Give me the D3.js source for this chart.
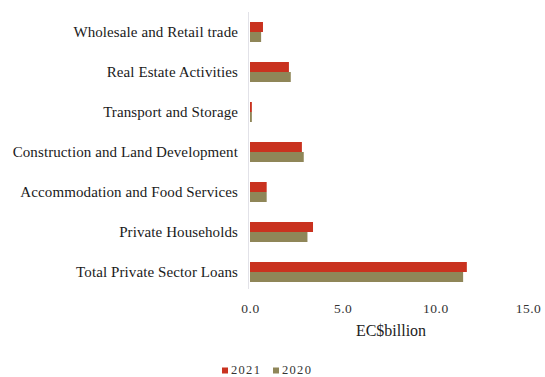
<!DOCTYPE html>
<html>
<head>
<meta charset="utf-8">
<script src="https://cdn.jsdelivr.net/npm/d3@7"></script>
<style>
  html, body { margin: 0; padding: 0; background: #fff; }
  svg { display: block; font-family: "Liberation Serif", "DejaVu Serif", serif; }
</style>
</head>
<body>
<svg id="chart" width="545" height="377"></svg>
<script>
// Loans by sector, EC$ billion
const categories = [
  "Wholesale and Retail trade",
  "Real Estate Activities",
  "Transport and Storage",
  "Construction and Land Development",
  "Accommodation and Food Services",
  "Private Households",
  "Total Private Sector Loans"
];
const values2021 = [0.7, 2.1, 0.1, 2.8, 0.9, 3.4, 11.7];
const values2020 = [0.6, 2.2, 0.1, 2.9, 0.9, 3.1, 11.5];
const seriesNames = ["2021", "2020"];
const seriesColors = ["#c9321f", "#8f8658"];
const tickValues = [0, 5, 10, 15];
const axisTitle = "EC$billion";

const svg = d3.select("#chart");
const W = 545;
const plotTop = 12, plotBottom = 292;

const x = d3.scaleLinear().domain([0, 15]).range([250, 528]);
const y = d3.scaleBand().domain(categories).range([plotTop, plotBottom]).paddingInner(0.5).paddingOuter(0.25);
const ySub = d3.scaleBand().domain(seriesNames).range([0, y.bandwidth()]);

const series = [values2021, values2020];

// category axis line
svg.append("line")
  .attr("x1", x(0) - 1.5).attr("x2", x(0) - 1.5)
  .attr("y1", plotTop).attr("y2", plotBottom - 3)
  .attr("stroke", "#e2e2e8").attr("stroke-width", 1);

// bars
seriesNames.forEach((name, si) => {
  svg.append("g").selectAll("rect")
    .data(categories)
    .join("rect")
    .attr("x", x(0))
    .attr("y", (d) => y(d) + ySub(name))
    .attr("width", (d, i) => x(series[si][i]) - x(0))
    .attr("height", ySub.bandwidth())
    .attr("fill", seriesColors[si]);
});

// category labels
const yAxis = d3.axisLeft(y).tickSize(0).tickPadding(12);
const gy = svg.append("g").attr("transform", `translate(${x(0)},0)`).call(yAxis);
gy.select(".domain").remove();
gy.selectAll("text")
  .attr("font-size", 15).attr("fill", "#1a1a1a")
  .attr("font-family", "Liberation Serif, serif")
  .attr("letter-spacing", "0.1px");

// value axis
const xAxis = d3.axisBottom(x).tickValues(tickValues).tickFormat(d3.format(".1f")).tickSize(0).tickPadding(0);
const gx = svg.append("g").attr("transform", `translate(0,303)`).call(xAxis);
gx.select(".domain").remove();
gx.selectAll("text")
  .attr("font-size", 13.5).attr("fill", "#333")
  .attr("font-family", "Liberation Serif, serif")
  .attr("letter-spacing", "0.5px");

svg.append("text")
  .attr("x", 391).attr("y", 336)
  .attr("text-anchor", "middle")
  .attr("font-size", 16).attr("fill", "#222")
  .text(axisTitle);

// legend
const legend = svg.append("g").attr("transform", "translate(222,374)");
let lx = 0;
seriesNames.forEach((name, i) => {
  legend.append("rect").attr("x", lx).attr("y", -6.5).attr("width", 6).attr("height", 6).attr("fill", seriesColors[i]);
  legend.append("text").attr("x", lx + 9).attr("y", 0)
    .attr("font-size", 12.5).attr("fill", "#333").attr("letter-spacing", "1.3px").text(name);
  lx += 51;
});
</script>
</body>
</html>
